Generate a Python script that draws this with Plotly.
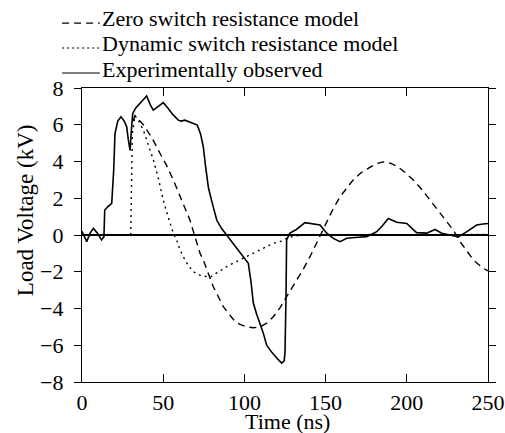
import plotly.graph_objects as go

# Experimentally observed (solid)
exp_t = [0, 2.9, 5, 7, 9.5, 12, 13.5, 14, 16, 18.3, 19.5, 20.3, 22, 24, 26, 27.5, 28.5, 29.6, 30.5, 31.2, 33, 35.7, 37.5,
         39.8, 42, 43.9, 47, 50, 53, 56, 59.3, 61, 63.4, 66, 68.5, 71, 73, 74.7, 76, 77.8, 80, 83, 86, 89, 93, 96, 98.3,
         100.5, 102.4, 104, 105.5, 107.5, 109.6, 111.5, 113.7, 117, 121, 123, 124.5, 125, 125.6, 126, 128, 132, 137.3, 142,
         146.6, 150.7, 155, 158.9, 163, 170, 175.3, 181.5, 185, 188.6, 193.8, 200, 206, 212.3, 217.4, 221.5, 226.6, 231.7,
         237, 243, 247, 250]
exp_v = [0.2, -0.36, 0.1, 0.36, 0.1, -0.27, -0.1, 1.36, 1.55, 1.72, 3.5, 5.5, 6.2, 6.43, 6.2, 5.9, 5.2, 4.6, 5.8, 6.6, 6.9, 7.16, 7.3,
         7.57, 7.1, 6.8, 7.0, 7.2, 6.9, 6.55, 6.25, 6.2, 6.25, 6.15, 6.07, 5.98, 5.5, 4.8, 3.8, 2.6, 1.8, 0.8, 0.35, 0.0, -0.45, -0.8, -1.09,
         -1.35, -1.54, -2.5, -3.7, -4.3, -4.8, -5.3, -6.0, -6.4, -6.8, -6.97, -6.85, -6.4, -3.5, -0.27, 0.1, 0.3, 0.67, 0.6,
         0.54, 0.1, -0.2, -0.36, -0.18, -0.12, -0.09, 0.18, 0.5, 0.9, 0.69, 0.63, 0.13, 0.1, 0.3, 0.1, 0.0, -0.1,
         0.18, 0.54, 0.6, 0.63]

# Zero switch resistance model (dashed)
zero_t = [31.5, 32.6, 37.8, 43, 48, 52, 56.2, 61, 66.5, 72.7, 74.7, 80.8, 87, 93.2, 97, 101.4, 105.5, 109.6, 113.7, 117.8,
          122, 126, 132.2, 136, 140.4, 146.5, 150.7, 154.5, 158.9, 167, 172, 177.3, 181, 185.5, 189.5, 193.8, 199, 204,
          209, 214.3, 222.5, 228.6, 232.8, 237, 241, 247, 250]
zero_v = [6.2, 6.5, 6.0, 5.3, 4.45, 3.8, 3.0, 2.0, 0.8, -1.0, -1.36, -2.8, -3.9, -4.6, -4.85, -5.0, -5.05, -5.0, -4.8, -4.45,
          -3.95, -3.35, -2.45, -1.9, -1.18, -0.09, 0.63, 1.4, 2.08, 3.0, 3.4, 3.7, 3.88, 3.98, 3.92, 3.75, 3.4, 3.0,
          2.5, 1.9, 1.0, 0.27, -0.36, -0.9, -1.36, -1.81, -1.95]

# Dynamic switch resistance model (dotted)
dyn_t = [30, 30.3, 31, 32.6, 35, 37.8, 41, 43.9, 47, 50, 53, 56.2, 58.3, 60.3, 62.4, 65, 68.5, 73, 78.8, 84, 89.1, 95,
         101.4, 107, 113.7, 117.8, 121.9, 127, 135, 145, 160, 180, 200, 220, 240, 250]
dyn_v = [0.0, 3.0, 5.5, 6.5, 6.2, 5.7, 4.9, 4.1, 3.1, 1.9, 1.0, 0.1, -0.27, -0.8, -1.18, -1.6, -2.0, -2.2, -2.3, -2.0, -1.72, -1.45,
         -1.18, -0.9, -0.63, -0.45, -0.36, -0.13, 0.0, 0.02, 0.0, 0.03, 0.0, 0.02, 0.0, 0.03]

x_ticks = [0, 50, 100, 150, 200, 250]
y_ticks = [-8, -6, -4, -2, 0, 2, 4, 6, 8]

legend_names = ["Zero switch resistance model", "Dynamic switch resistance model", "Experimentally observed"]
legend_dashes = ["7px,5px", "2px,3px", "solid"]

FONT = "Liberation Serif, Times New Roman, serif"
FS = 22

fig = go.Figure()
fig.add_trace(go.Scatter(x=zero_t, y=zero_v, mode="lines", name=legend_names[0],
                         line=dict(color="black", width=1.4, dash="7px,5px")))
fig.add_trace(go.Scatter(x=dyn_t, y=dyn_v, mode="lines", name=legend_names[1],
                         line=dict(color="black", width=1.4, dash="2px,4px")))
fig.add_trace(go.Scatter(x=exp_t, y=exp_v, mode="lines", name=legend_names[2],
                         line=dict(color="black", width=1.6)))

# Legend drawn manually (paper coordinates) to match the tight line spacing
text_rows = [1.235, 1.150, 1.063]
line_rows = [1.221, 1.136, 1.051]
shapes = []
annotations = []
for name, dash, ty, ly in zip(legend_names, legend_dashes, text_rows, line_rows):
    shapes.append(dict(type="line", xref="paper", yref="paper", x0=-0.049, x1=0.044, y0=ly, y1=ly,
                       line=dict(color="black", width=1.2, dash=dash)))
    annotations.append(dict(xref="paper", yref="paper", x=0.045, y=ty, xanchor="left", yanchor="middle",
                            text=name, showarrow=False, font=dict(family=FONT, size=FS, color="black")))

annotations.append(dict(xref="paper", yref="paper", x=0.505, y=-0.134, xanchor="center", yanchor="middle",
                        text="Time (ns)", showarrow=False, font=dict(family=FONT, size=FS, color="black")))
annotations.append(dict(xref="paper", yref="paper", x=-0.140, y=0.585, xanchor="center", yanchor="middle",
                        text="Load Voltage (kV)", textangle=-90, showarrow=False,
                        font=dict(family=FONT, size=23, color="black")))

fig.update_layout(
    width=505, height=433,
    margin=dict(l=82, r=17, t=88, b=51, autoexpand=False),
    paper_bgcolor="white", plot_bgcolor="white",
    font=dict(family=FONT, size=FS, color="black"),
    showlegend=False,
    hovermode=False,
    shapes=shapes,
    annotations=annotations,
    xaxis=dict(range=[0, 250], tickvals=x_ticks, ticks="inside", ticklen=8, tickcolor="black",
               showline=True, linecolor="black", linewidth=1.2, mirror="ticks", showgrid=False, zeroline=False,
               tickfont=dict(family=FONT, size=FS)),
    yaxis=dict(range=[-8, 8], tickvals=y_ticks, ticks="outside", ticklen=7, tickcolor="black",
               showline=True, linecolor="black", linewidth=1.2, mirror="ticks", showgrid=False,
               zeroline=True, zerolinecolor="black", zerolinewidth=1.2,
               ticklabelstandoff=6,
               tickfont=dict(family=FONT, size=FS)),
)

# Remove the default 8px page margin so the 505x433 figure fills the window exactly.
fig.write_html("out.html", config={"displayModeBar": False, "staticPlot": True},
               post_script="document.body.style.margin='0';document.body.style.overflow='hidden';")
